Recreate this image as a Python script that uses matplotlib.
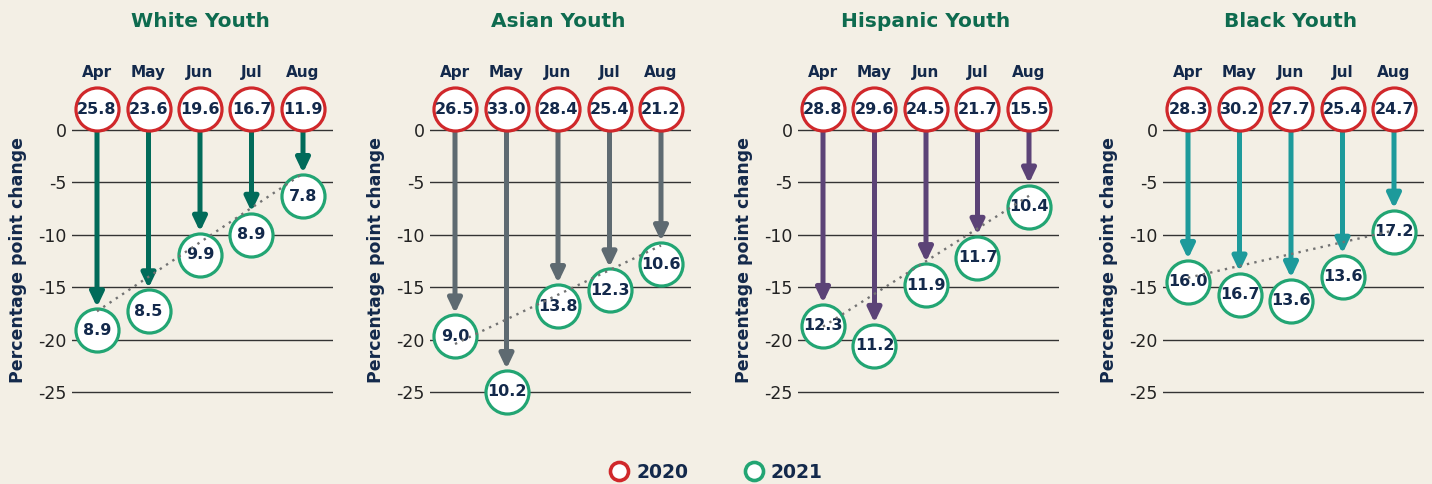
import numpy as np
import matplotlib
matplotlib.use("Agg")
import matplotlib.pyplot as plt
from matplotlib.lines import Line2D

# ---- data ----
months = ["Apr", "May", "Jun", "Jul", "Aug"]
groups = ["White Youth", "Asian Youth", "Hispanic Youth", "Black Youth"]
vals_2020 = {
    "White Youth": [25.8, 23.6, 19.6, 16.7, 11.9],
    "Asian Youth": [26.5, 33.0, 28.4, 25.4, 21.2],
    "Hispanic Youth": [28.8, 29.6, 24.5, 21.7, 15.5],
    "Black Youth": [28.3, 30.2, 27.7, 25.4, 24.7],
}
vals_2021 = {
    "White Youth": [8.9, 8.5, 9.9, 8.9, 7.8],
    "Asian Youth": [9.0, 10.2, 13.8, 12.3, 10.6],
    "Hispanic Youth": [12.3, 11.2, 11.9, 11.7, 10.4],
    "Black Youth": [16.0, 16.7, 13.6, 13.6, 17.2],
}
yticks = [0, -5, -10, -15, -20, -25]

# ---- style ----
BG = "#f3efe5"
NAVY = "#13294b"
TITLE = "#0e6b4f"
RED = "#d0282b"
GREEN = "#22a573"
arrow_colors = {
    "White Youth": "#016b5a",
    "Asian Youth": "#5e6a71",
    "Hispanic Youth": "#5c4377",
    "Black Youth": "#1d9a9b",
}
W, H = 1432, 484
fig = plt.figure(figsize=(W / 100, H / 100), dpi=100, facecolor=BG)

px_per_unit = 10.48
y0_px = 130.0
ylo, yhi = -26.5, 7.0
top_px = y0_px - px_per_unit * yhi
bot_px = y0_px - px_per_unit * ylo
lefts = [72, 430, 798, 1163]
width_px = 261
month_sp = 51.5
xlo = -25 / month_sp
xhi = xlo + width_px / month_sp
off_top = 2.0
off_bot = 2.2

for g, lpx in zip(groups, lefts):
    ax = fig.add_axes([lpx / W, 1 - bot_px / H, width_px / W, (bot_px - top_px) / H])
    ax.set_facecolor(BG)
    ax.set_xlim(xlo, xhi)
    ax.set_ylim(ylo, yhi)
    for s in ax.spines.values():
        s.set_visible(False)
    ax.set_xticks([])
    ax.set_yticks(yticks)
    ax.set_yticklabels([str(t) for t in yticks], fontsize=12.5, color="#222222")
    ax.tick_params(axis="y", length=0, pad=4)
    for t in yticks:
        ax.axhline(t, color="#333333", lw=1.0, zorder=1)

    a = np.array(vals_2020[g])
    b = np.array(vals_2021[g])
    ch = b - a
    x = np.arange(len(months))
    col = arrow_colors[g]
    for xi, c in zip(x, ch):
        ax.annotate("", xy=(xi, c), xytext=(xi, 0),
                    arrowprops=dict(arrowstyle="-|>,head_length=0.42,head_width=0.2",
                                    color=col, lw=3.6, mutation_scale=20,
                                    shrinkA=0, shrinkB=0), zorder=2)
    # top circles (2020)
    ax.scatter(x, np.full(len(x), off_top), s=960, facecolor="white", edgecolor=RED,
               linewidth=2.3, zorder=4, clip_on=False)
    for xi, v in zip(x, a):
        ax.text(xi, off_top, f"{v:.1f}", ha="center", va="center", fontsize=11.5,
                fontweight="bold", color=NAVY, zorder=5)
    # bottom circles (2021)
    ax.scatter(x, ch - off_bot, s=960, facecolor="white", edgecolor=GREEN,
               linewidth=2.3, zorder=4, clip_on=False)
    for xi, c, v in zip(x, ch, b):
        ax.text(xi, c - off_bot, f"{v:.1f}", ha="center", va="center", fontsize=11.5,
                fontweight="bold", color=NAVY, zorder=5)
    # trend line
    k, m = np.polyfit(x, ch, 1)
    ax.plot(x[[0, -1]], k * x[[0, -1]] + m, ls=(0, (1, 2.2)), color="#737373",
            lw=1.7, zorder=6)
    # month labels
    for xi, mo in zip(x, months):
        ax.text(xi, 5.53, mo, ha="center", va="center", fontsize=11,
                fontweight="bold", color=NAVY, clip_on=False)
    ax.text(2, 10.35, g, ha="center", va="center", fontsize=14.5,
            fontweight="bold", color=TITLE, clip_on=False)
    ax.text(-54 / width_px, (-12.4 - ylo) / (yhi - ylo), "Percentage point change",
            transform=ax.transAxes, rotation=90, ha="center", va="center",
            fontsize=12.5, fontweight="bold", color=NAVY)

handles = [
    Line2D([], [], marker="o", ls="", markersize=13, mfc="white", mec=RED, mew=2.6),
    Line2D([], [], marker="o", ls="", markersize=13, mfc="white", mec=GREEN, mew=2.6),
]
leg = fig.legend(handles, ["2020", "2021"], loc="center", bbox_to_anchor=(0.4995, 1 - 472 / H),
                 ncol=2, frameon=False, columnspacing=2.9, handletextpad=0.3,
                 handlelength=1.2, prop=dict(size=13.5, weight="bold"))
for t in leg.get_texts():
    t.set_color(NAVY)

fig.savefig("out.png", dpi=100, facecolor=BG)
